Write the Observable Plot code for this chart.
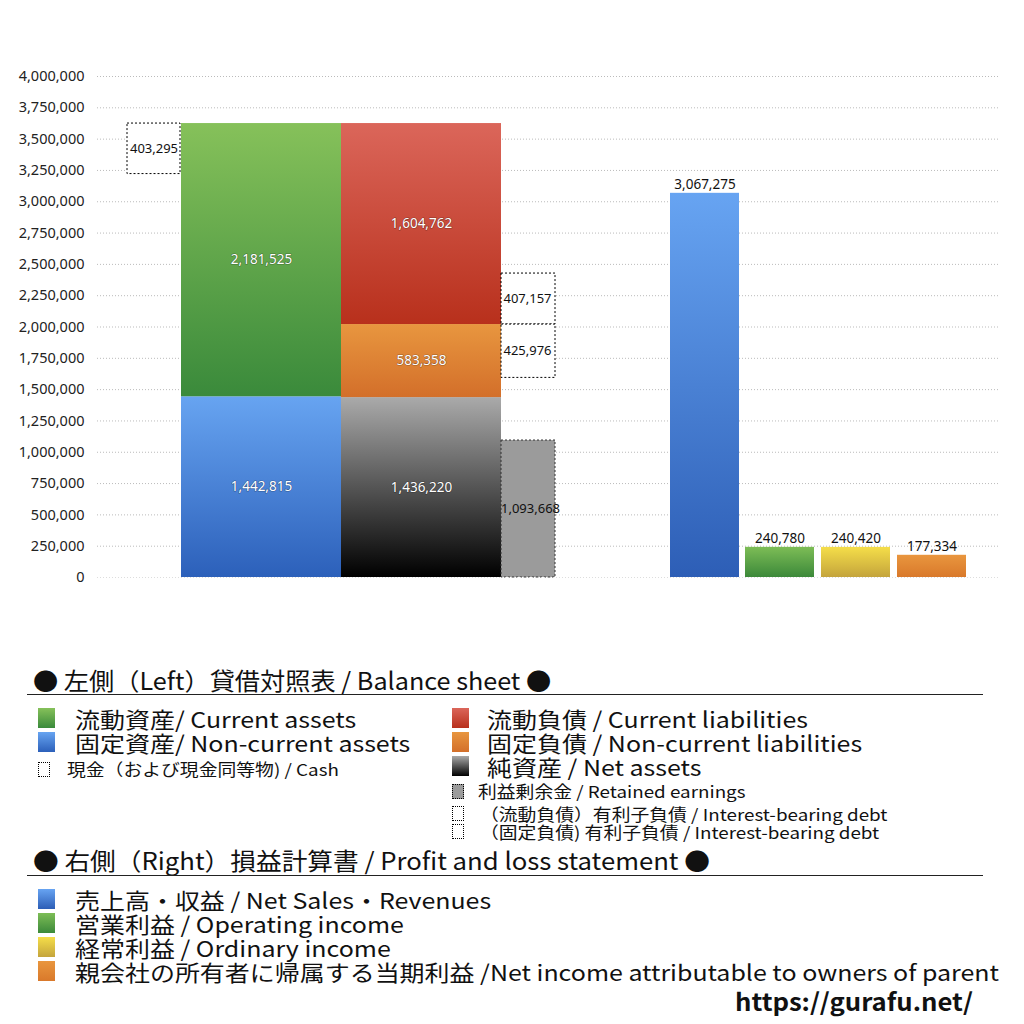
<!DOCTYPE html>
<html><head><meta charset="utf-8">
<script src="https://cdn.jsdelivr.net/npm/d3@7"></script>
<script src="https://cdn.jsdelivr.net/npm/@observablehq/plot@0.6"></script>
<style>
body{margin:0;background:#fff;font-family:"Noto Sans CJK JP","Noto Sans",sans-serif;color:#111;}
#chart{width:1024px;height:620px;}
#legend{position:relative;width:1024px;height:404px;}
.l{position:absolute;white-space:nowrap;transform-origin:0 50%;}
.big{font-size:22px;line-height:24px;transform:scaleX(1.135);}
.small{font-size:16.5px;line-height:18px;transform:scaleX(1.14);}
.sw{position:absolute;box-sizing:border-box;}
.hr{position:absolute;left:27px;width:956px;height:0;border-top:1.5px solid #222;}
</style></head>
<body>
<div id="chart"></div>
<div id="legend"></div>
<script>
// ---- data ----
const bsAssets = ["流動資産","固定資産"];
const bsAssetValues = [2181525, 1442815];
const bsLiab = ["流動負債","固定負債","純資産"];
const bsLiabValues = [1604762, 583358, 1436220];
const cashValue = 403295;
const debtCurrent = 407157;
const debtNonCurrent = 425976;
const retainedEarnings = 1093668;
const plNames = ["売上高・収益","営業利益","経常利益","当期利益"];
const plValues = [3067275, 240780, 240420, 177334];
const yTicks = d3.range(0, 4000001, 250000);

// ---- layout (x units = plot columns) ----
const col = {cash:[30,83], assets:[84,244], liab:[244,404], debt:[404,458]};
const plCols = [[573,642],[648,717],[724,793],[800,869]];
const fmt = d3.format(",");

// build stacked rows
const assetsRows = [
  {name:bsAssets[1], y1:0, y2:bsAssetValues[1], v:bsAssetValues[1], g:"gBlue"},
  {name:bsAssets[0], y1:bsAssetValues[1], y2:bsAssetValues[1]+bsAssetValues[0], v:bsAssetValues[0], g:"gGreen"}
];
const net = bsLiabValues[2], ncl = bsLiabValues[1], cl = bsLiabValues[0];
const liabRows = [
  {name:bsLiab[2], y1:0, y2:net, v:net, g:"gBlack"},
  {name:bsLiab[1], y1:net, y2:net+ncl, v:ncl, g:"gOrange"},
  {name:bsLiab[0], y1:net+ncl, y2:net+ncl+cl, v:cl, g:"gRed"}
];
const totalAssets = assetsRows[1].y2;
const cashRow = {y1: totalAssets - cashValue, y2: totalAssets, v: cashValue};
const debtRows = [
  {y1: net+ncl, y2: net+ncl+debtCurrent, v: debtCurrent},
  {y1: net+ncl-debtNonCurrent, y2: net+ncl, v: debtNonCurrent}
];
const reRow = {y1:0, y2:retainedEarnings, v:retainedEarnings};
const plGrads = ["pBlue","pGreen","pYellow","pOrange"];
const plRows = plNames.map((n,i)=>({name:n, v:plValues[i], x1:plCols[i][0], x2:plCols[i][1], g:plGrads[i]}));

const xa = (k)=>({x1: col[k][0], x2: col[k][1]});
const mid = (k)=> (col[k][0]+col[k][1])/2;

const marks = [
  Plot.gridY(yTicks, {stroke:"#bbb", strokeOpacity:1, strokeDasharray:"1,2", strokeWidth:1}),
  Plot.axisY(yTicks, {tickSize:0, tickPadding:13, tickFormat:fmt, fontSize:14.5, fill:"#222", label:null}),
  // cash dotted box
  Plot.rectY([cashRow], {...xa("cash"), y1:"y1", y2:"y2", fill:"white", stroke:"#000", strokeDasharray:"2,2", strokeWidth:1}),
  Plot.text([cashRow], {x: mid("cash"), y:d=>(d.y1+d.y2)/2, text:d=>fmt(d.v), fontSize:13, fill:"#111"}),
  // assets
  ...assetsRows.map(r=>Plot.rectY([r], {...xa("assets"), y1:"y1", y2:"y2", fill:`url(#${r.g})`})),
  ...liabRows.map(r=>Plot.rectY([r], {...xa("liab"), y1:"y1", y2:"y2", fill:`url(#${r.g})`})),
  Plot.text([...assetsRows], {x: mid("assets"), y:d=>(d.y1+d.y2)/2, text:d=>fmt(d.v), fontSize:13.5, fill:"white", stroke:"rgba(0,0,0,0.35)", strokeWidth:1.2}),
  Plot.text([...liabRows], {x: mid("liab"), y:d=>(d.y1+d.y2)/2, text:d=>fmt(d.v), fontSize:13.5, fill:"white", stroke:"rgba(0,0,0,0.35)", strokeWidth:1.2}),
  // debt boxes
  Plot.rectY(debtRows, {...xa("debt"), y1:"y1", y2:"y2", fill:"white", stroke:"#000", strokeDasharray:"2,2", strokeWidth:1, inset:0}),
  Plot.text(debtRows, {x: mid("debt")-1, y:d=>(d.y1+d.y2)/2, text:d=>fmt(d.v), fontSize:13, fill:"#111"}),
  // retained earnings
  Plot.rectY([reRow], {...xa("debt"), y1:"y1", y2:"y2", fill:"#9b9b9b", stroke:"#333", strokeDasharray:"2,2", strokeWidth:1}),
  Plot.text([reRow], {x: mid("debt")+2, y:d=>d.y2*0.5, text:d=>fmt(d.v), fontSize:13, fill:"#111"}),
  // P&L bars
  ...plRows.map(r=>Plot.rectY([r], {x1:"x1", x2:"x2", y1:0, y2:"v", fill:`url(#${r.g})`})),
  Plot.text(plRows, {x:d=>(d.x1+d.x2)/2, y:"v", text:d=>fmt(d.v), dy:-9, fontSize:13.5, fill:"#111"}),
  Plot.ruleY([0], {stroke:"#ddd", strokeDasharray:"1,2"})
];

const chart = Plot.plot({
  width:1024, height:620,
  marginTop:76, marginBottom:43, marginLeft:97, marginRight:24,
  x:{domain:[0,903], axis:null},
  y:{domain:[0,4000000], axis:null},
  style:{fontFamily:"'Noto Sans','DejaVu Sans',sans-serif", background:"white"},
  marks
});

const grads = {
  gGreen:["#86c15a","#3a8a3b"], gBlue:["#67a4f1","#2c60ba"],
  gRed:["#db665a","#b8301c"], gOrange:["#e8963f","#d36f2a"], gBlack:["#aaaaaa","#000000"],
  pBlue:["#67a4f2","#2d5eb6"], pGreen:["#7dbd56","#3c893a"], pYellow:["#f5de49","#c4a43c"], pOrange:["#e9963e","#d9792b"]
};
const defs = d3.select(chart).insert("defs", ":first-child");
for (const [id,[a,b]] of Object.entries(grads)) {
  const g = defs.append("linearGradient").attr("id",id).attr("x1",0).attr("y1",0).attr("x2",0).attr("y2",1);
  g.append("stop").attr("offset","0%").attr("stop-color",a);
  g.append("stop").attr("offset","100%").attr("stop-color",b);
}
document.getElementById("chart").appendChild(chart);

// ---- legend ----
const L = document.getElementById("legend");
const top0 = 620;
function txt(x,y,s,cls,extra){const d=document.createElement("div");d.className="l "+cls;d.style.left=x+"px";d.style.top=(y-top0)+"px";d.textContent=s;if(extra)Object.assign(d.style,extra);L.appendChild(d);return d;}
function sw(x,y,w,h,style){const d=document.createElement("div");d.className="sw";d.style.left=x+"px";d.style.top=(y-top0)+"px";d.style.width=w+"px";d.style.height=h+"px";Object.assign(d.style,style);L.appendChild(d);}
function hr(y){const d=document.createElement("div");d.className="hr";d.style.top=(y-top0)+"px";L.appendChild(d);}
const grad=(a,b)=>({background:`linear-gradient(${a},${b})`});
const dotted={border:"1px dotted #000",background:"white"};

txt(33,667,"● 左側（Left）貸借対照表 / Balance sheet ●","big",{fontSize:"24px",lineHeight:"26px",transform:"scaleX(1.05)"});
hr(694);
sw(38,708,17,20,grad(...grads.gGreen)); txt(75,706,"流動資産/ Current assets","big");
sw(38,732,17,20,grad(...grads.gBlue)); txt(75,730,"固定資産/ Non-current assets","big");
sw(38,762,12,15,dotted); txt(67,760,"現金（および現金同等物) / Cash","small");
sw(452,708,17,20,grad(...grads.gRed)); txt(487,706,"流動負債 /  Current liabilities","big");
sw(452,732,17,20,grad(...grads.gOrange)); txt(487,730,"固定負債 / Non-current liabilities","big");
sw(452,756,17,20,grad(...grads.gBlack)); txt(487,754,"純資産 / Net assets","big");
sw(452,784,12,15,{...dotted,background:"#9b9b9b"}); txt(478,782,"利益剰余金 / Retained earnings","small");
sw(452,806,12,15,dotted); txt(480,805,"（流動負債）有利子負債 / Interest-bearing debt","small");
sw(452,824,12,15,dotted); txt(480,823,"（固定負債) 有利子負債 / Interest-bearing debt","small");

txt(33,847,"● 右側（Right）損益計算書 / Profit and loss statement ●","big",{fontSize:"24px",lineHeight:"26px",transform:"scaleX(1.07)"});
hr(875);
sw(38,889,17,20,grad(...grads.pBlue)); txt(75,887,"売上高・収益 / Net Sales・Revenues","big");
sw(38,913,17,20,grad(...grads.pGreen)); txt(75,911,"営業利益 / Operating income","big");
sw(38,937,17,20,grad(...grads.pYellow)); txt(75,935,"経常利益 / Ordinary income","big");
sw(38,961,17,20,grad(...grads.pOrange)); txt(75,959,"親会社の所有者に帰属する当期利益 /Net income attributable to owners of parent","big");
txt(735,989,"https://gurafu.net/","big",{fontWeight:"bold",fontSize:"24px",transform:"scaleX(1.07)"});
</script>
</body></html>
